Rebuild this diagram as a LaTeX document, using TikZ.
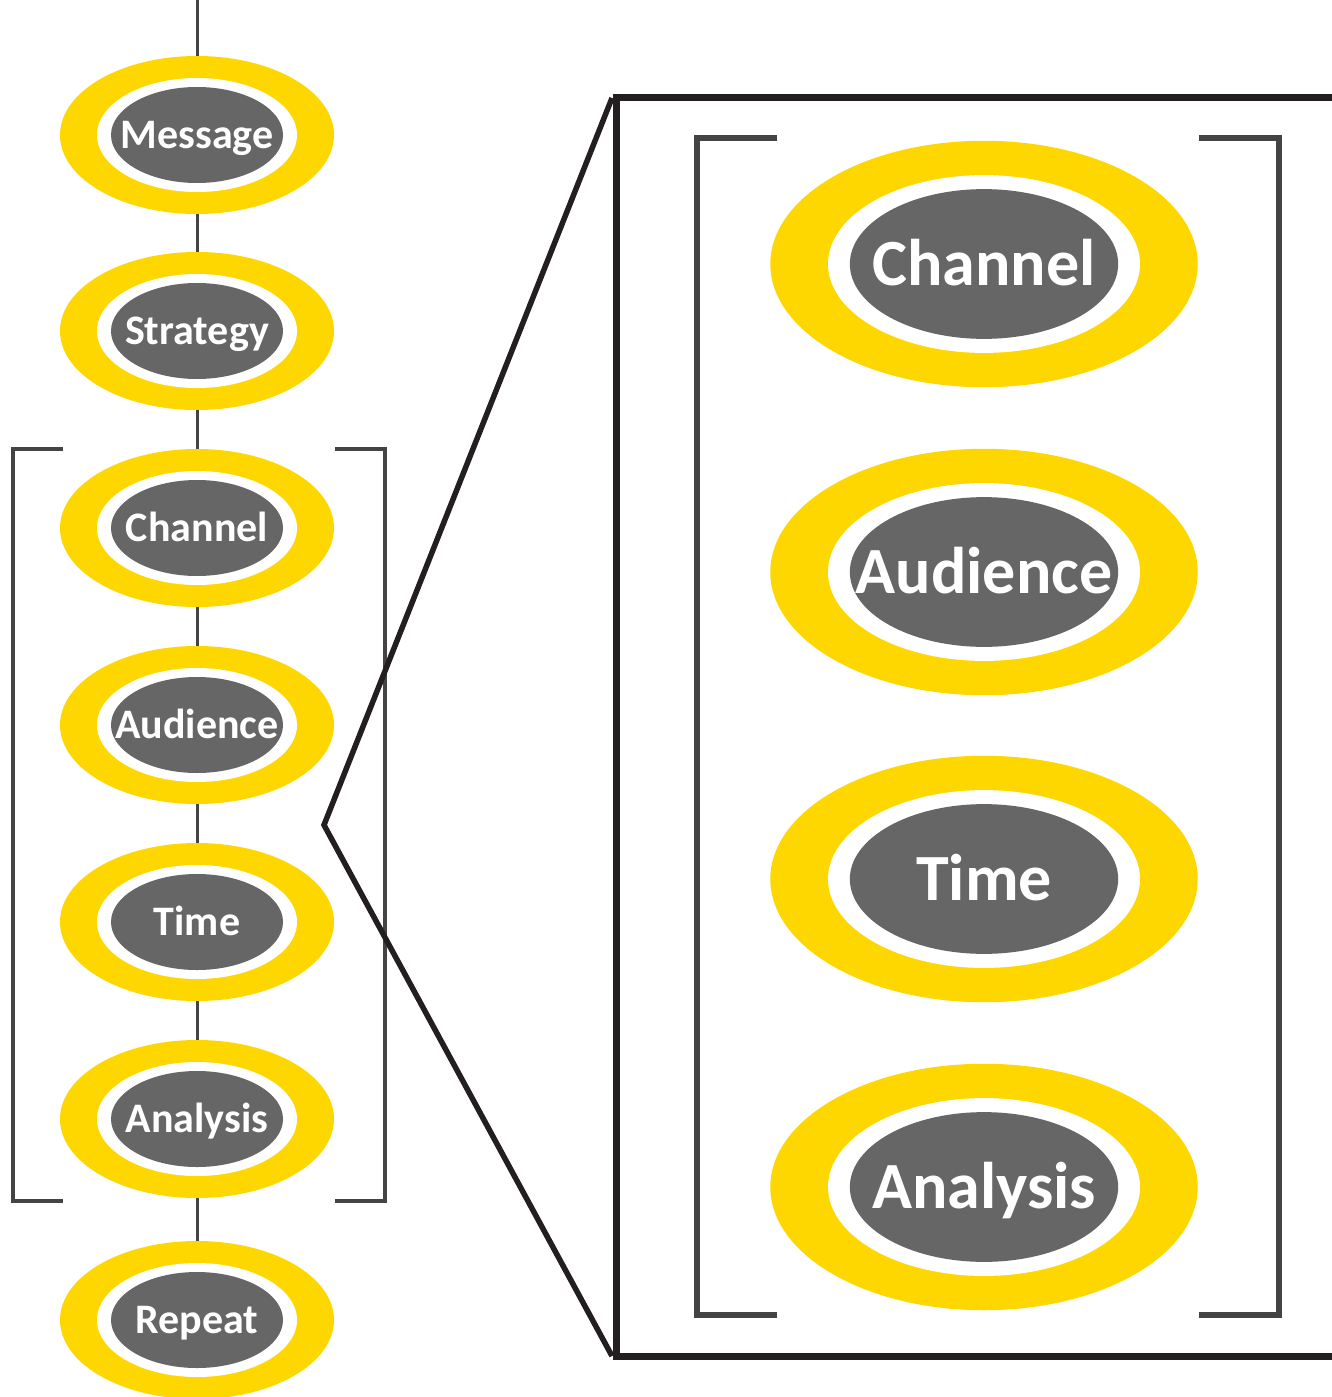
\documentclass[tikz,border=0pt]{standalone}
\usepackage{fontspec}
\setmainfont{Carlito}
\usetikzlibrary{shapes.geometric}
\definecolor{ringy}{HTML}{FFD700}
\definecolor{ringgray}{HTML}{666666}
\definecolor{brk}{HTML}{444444}
\definecolor{boxc}{HTML}{231F20}
\tikzset{
  ringout/.style={ellipse, fill=ringy, inner sep=0pt, outer sep=0pt},
  ringtext/.style={text=white, inner sep=0pt},
  conn/.style={draw=brk, line width=3pt},
  brack/.style={draw=brk, line width=4pt, line cap=butt, line join=miter},
  bigbrack/.style={draw=brk, line width=6pt, line cap=butt, line join=miter},
  zoomline/.style={draw=boxc, line width=5.5pt, line join=miter},
  boxline/.style={draw=boxc, line width=7pt, line join=miter}
}
\newcommand\ringnode[6]{%
  \node[ringout, minimum width=#4*274pt, minimum height=#4*158pt] (#1) at (#2,#3) {};
  \fill[white] (#1.center) ellipse [x radius=#4*100pt, y radius=#4*57pt];
  \fill[ringgray] (#1.center) ellipse [x radius=#4*86pt, y radius=#4*48pt];
  \node[ringtext, font=\fontsize{#6}{#6}\selectfont\bfseries, anchor=base] at ([yshift=-0.322*#6pt]#1.center) {#5};
}
\begin{document}
\begin{tikzpicture}[x=1pt,y=-1pt]
\useasboundingbox (0,0) rectangle (1332,1397);
\fill[white] (0,0) rectangle (1332,1397);

% left column
\coordinate (top) at (197,0);
\ringnode{m1}{197}{135}{1}{Message}{42}
\ringnode{m2}{197}{331}{1}{Strategy}{42}
\ringnode{m3}{197}{528}{1}{Channel}{42}
\ringnode{m4}{197}{725}{1}{Audience}{42}
\ringnode{m5}{197}{922}{1}{Time}{42}
\ringnode{m6}{197}{1119}{1}{Analysis}{42}
\ringnode{m7}{197}{1320}{1}{Repeat}{42}

\draw[conn] (top) -- (m1.north);
\draw[conn] (m1.south) -- (m2.north);
\draw[conn] (m2.south) -- (m3.north);
\draw[conn] (m3.south) -- (m4.north);
\draw[conn] (m4.south) -- (m5.north);
\draw[conn] (m5.south) -- (m6.north);
\draw[conn] (m6.south) -- (m7.north);

% small brackets
\draw[brack] (63,449) -- (13,449) -- (13,1201) -- (63,1201);
\draw[brack] (335,449) -- (385,449) -- (385,1201) -- (335,1201);

% zoom lines and box
\coordinate (apex) at (324,825);
\coordinate (btl) at (612,98);
\coordinate (bbl) at (612,1356);
\draw[zoomline] (btl) -- (apex) -- (bbl);
\draw[boxline] (1340,97) -- (616,97) -- (616,1356) -- (1340,1356);

% big brackets
\draw[bigbrack] (777,138) -- (697,138) -- (697,1315) -- (777,1315);
\draw[bigbrack] (1199,138) -- (1279,138) -- (1279,1315) -- (1199,1315);

% big rings
\ringnode{b1}{984}{264}{1.56}{Channel}{66}
\ringnode{b2}{984}{572}{1.56}{Audience}{66}
\ringnode{b3}{984}{879}{1.56}{Time}{66}
\ringnode{b4}{984}{1187}{1.56}{Analysis}{66}
\end{tikzpicture}
\end{document}
